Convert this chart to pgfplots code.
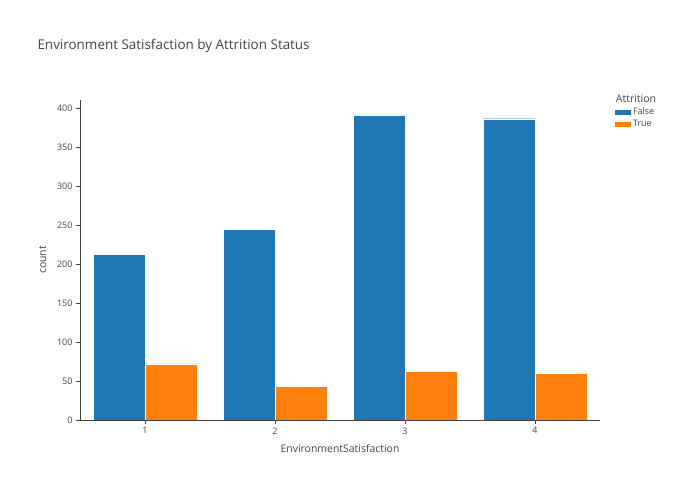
\documentclass[border=0pt]{standalone}
\usepackage{pgfplots}
\pgfplotsset{compat=1.18}
\usepackage{fontspec}
\setmainfont{Open Sans}
\definecolor{cblue}{HTML}{1F77B4}
\definecolor{corange}{HTML}{FF7F0E}
\definecolor{txt}{HTML}{444444}
\begin{document}
\begin{tikzpicture}[x=1bp,y=1bp]
\path[fill=white] (0,0) rectangle (700,500);
\node[anchor=west,text=txt,font=\fontsize{13}{15}\selectfont] at (35,45) {\makebox[0pt][l]{}};
\node[anchor=base west,text=txt,font=\fontsize{13.5}{16}\selectfont] at (34,450) {Environment Satisfaction by Attrition Status};
\begin{axis}[at={(80bp,80bp)},anchor=south west,scale only axis,
  width=520bp,height=320bp,
  xmin=0.5,xmax=4.5,ymin=0,ymax=410,
  axis x line*=bottom, axis y line*=left,
  axis line style={txt},
  xtick={1,2,3,4}, ytick={0,50,...,400},
  tick style={txt}, major tick length=4bp,
  xtick pos=bottom, ytick pos=left,
  tick align=outside,
  ticklabel style={text=txt,font=\fontsize{9}{11}\selectfont},
  /pgf/number format/assume math mode=true,
  xlabel={EnvironmentSatisfaction}, ylabel={count},
  label style={text=txt,font=\fontsize{10.5}{12}\selectfont},
  xlabel style={yshift=-4bp}, ylabel style={yshift=4bp},
  ybar, bar width=0.4,
  legend style={at={(1.02,1.03)},anchor=north west,draw=none,fill=none,
    text=txt,font=\fontsize{9}{11}\selectfont,cells={anchor=west}},
  legend cell align=left,
]
\addlegendimage{empty legend}
\addlegendentry{\hspace{-0.6cm}\fontsize{10.5}{12}\selectfont Attrition}
\addplot[fill=cblue,draw=white,line width=0.4pt,bar shift=-0.2,area legend] coordinates {(1,212) (2,244) (3,391) (4,386)};
\addlegendentry{False}
\addplot[fill=corange,draw=white,line width=0.4pt,bar shift=0.2,area legend] coordinates {(1,72) (2,43) (3,62) (4,60)};
\addlegendentry{True}
\end{axis}
\end{tikzpicture}
\end{document}
